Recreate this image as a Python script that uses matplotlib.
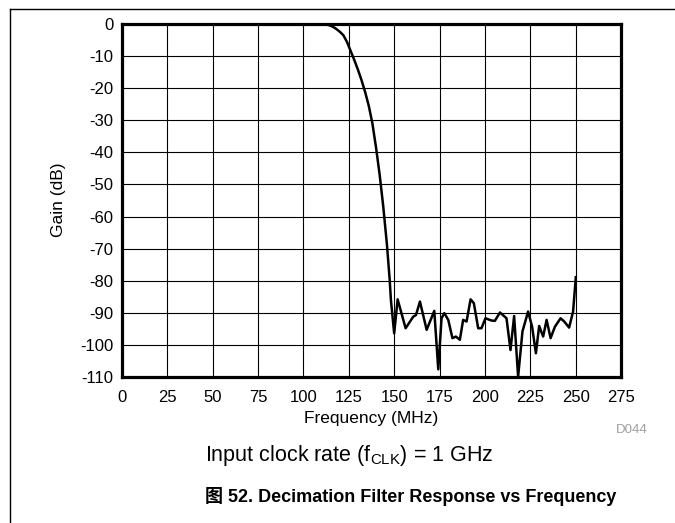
import numpy as np
import matplotlib.pyplot as plt
from matplotlib.lines import Line2D

# Frequency (MHz) and gain (dB)
freq = [0, 105, 110, 112, 114, 116, 118, 120, 122, 124, 126, 128, 130, 132,
        134, 136, 138, 140, 142, 144, 146, 147.5, 148.2, 150.0, 151.9, 156.3,
        160.5, 162.0, 164.2, 167.9, 172.1, 174.3, 176.1, 177.6, 179.8, 182.1,
        184.0, 186.2, 188.0, 189.9, 192.1, 193.9, 196.3, 198.1, 200.3, 203.6,
        205.5, 208.3, 211.9, 214.1, 216.1, 218.3, 220.7, 223.8, 226.0, 228.1,
        229.9, 232.1, 234.0, 236.2, 238.6, 241.7, 243.7, 246.4, 248.6, 250.1]
gain = [0, 0, 0, -0.1, -0.35, -0.8, -1.5, -2.4, -3.5, -5.6, -8.4, -11.2,
        -14.2, -17.5, -21.2, -25.5, -31, -38.5, -47, -57, -68.7, -79.5, -86,
        -96.4, -85.8, -94.8, -91.2, -90.7, -86.5, -95.3, -89.4, -107.6, -91.7,
        -90.1, -92.2, -97.9, -97.4, -98.4, -92.2, -92.7, -85.8, -87.0, -94.8,
        -94.8, -91.7, -92.4, -92.5, -89.9, -91.7, -101.6, -91.0, -109.9, -95.8,
        -89.6, -94.3, -102.6, -94.1, -97.4, -92.2, -97.9, -94.3, -91.7, -92.7,
        -94.6, -89.6, -78.9]

xticks = list(range(0, 276, 25))
yticks = list(range(0, -111, -10))

plt.rcParams['font.family'] = ['Liberation Sans', 'Noto Sans CJK SC', 'DejaVu Sans']
plt.rcParams['axes.unicode_minus'] = False

W, H = 675, 523
fig = plt.figure(figsize=(6.75, 5.23), dpi=100)
ax = fig.add_axes([122 / W, 1 - 377 / H, 499 / W, 353 / H])

ax.plot(freq, gain, color='black', linewidth=1.8, zorder=3)

ax.set_xlim(0, 275)
ax.set_ylim(-110, 0)
ax.set_xticks(xticks)
ax.set_yticks(yticks)
ax.grid(True, color='black', linewidth=0.8)
ax.tick_params(length=0, labelsize=12)
ax.tick_params(axis='x', pad=9)
ax.tick_params(axis='y', pad=6)
for s in ax.spines.values():
    s.set_linewidth(2.3)
    s.set_zorder(4)

fig.text(371 / W, 1 - 419 / H, 'Frequency (MHz)', fontsize=12.5,
         ha='center', va='center')
fig.text(58 / W, 1 - 200 / H, 'Gain (dB)', fontsize=12.5, rotation=90,
         ha='center', va='center')

fig.text(632 / W, 1 - 430 / H, 'D044', fontsize=9.5, color='#a0a0a0',
         ha='center', va='center')
fig.text(349 / W, 1 - 455 / H, r'Input clock rate (f$_{\mathregular{CLK}}$) = 1 GHz',
         fontsize=15.5, ha='center', va='center')
fig.text(411 / W, 1 - 497 / H, '图 52. Decimation Filter Response vs Frequency',
         fontsize=13, fontweight='bold', ha='center', va='center')

# outer frame (top and left only)
fig.add_artist(Line2D([10 / W, 1], [1 - 9 / H, 1 - 9 / H],
                      transform=fig.transFigure, color='black', linewidth=1))
fig.add_artist(Line2D([10 / W, 10 / W], [1 - 9 / H, 0],
                      transform=fig.transFigure, color='black', linewidth=1))

fig.savefig('out.png', dpi=100)
